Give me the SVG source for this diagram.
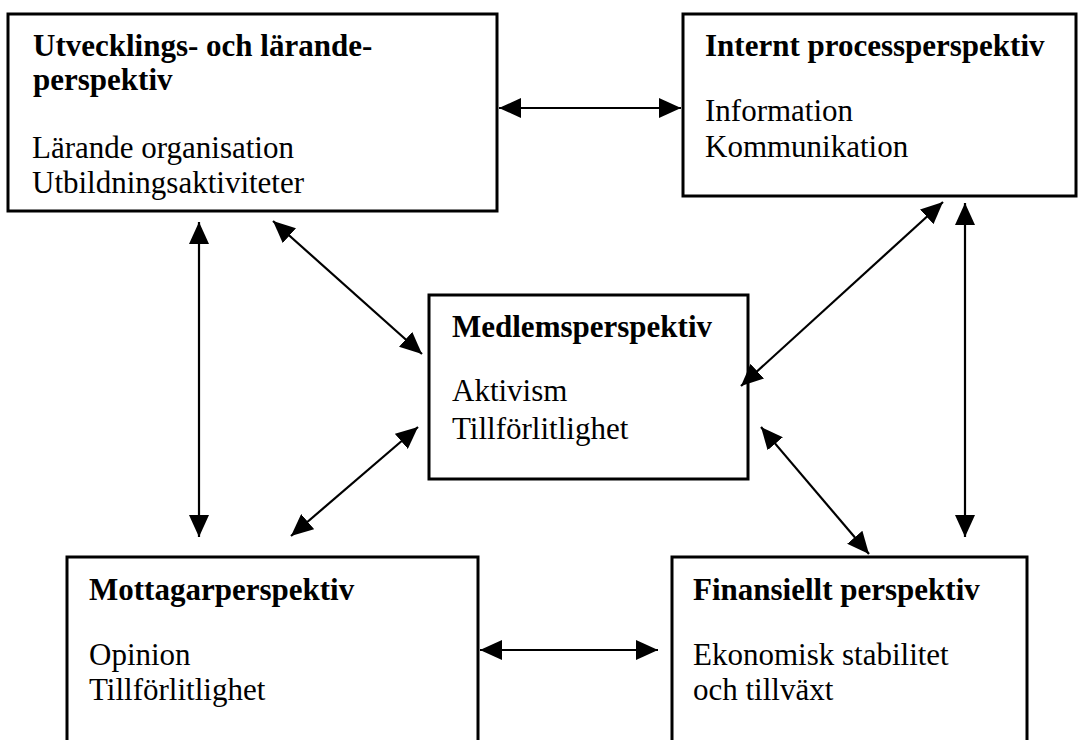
<svg xmlns="http://www.w3.org/2000/svg" width="1083" height="740" viewBox="0 0 1083 740">
<style>
.box{fill:#fff;stroke:#000;stroke-width:3}
.h{font-family:"Liberation Serif","Times New Roman",serif;font-weight:bold;font-size:31px;fill:#000}
.t{font-family:"Liberation Serif","Times New Roman",serif;font-size:31px;fill:#000}
.c{stroke:#000;stroke-width:2.2;fill:none;marker-start:url(#ah);marker-end:url(#ah)}
</style>
<defs>
<marker id="ah" markerUnits="userSpaceOnUse" markerWidth="22" markerHeight="20" refX="22" refY="10" orient="auto-start-reverse" viewBox="0 0 22 20">
<path d="M0,0 L22,10 L0,20 z" fill="#000"/>
</marker>
</defs>
<rect width="1083" height="740" fill="#fff"/>
<g id="n1">
<rect class="box" x="8" y="14" width="489" height="197"/>
<text class="h" x="33" y="56">Utvecklings- och lärande-</text>
<text class="h" x="33" y="90">perspektiv</text>
<text class="t" x="32" y="158">Lärande organisation</text>
<text class="t" x="32" y="193">Utbildningsaktiviteter</text>
</g>
<g id="n2">
<rect class="box" x="683" y="14" width="393" height="182"/>
<text class="h" x="705" y="56">Internt processperspektiv</text>
<text class="t" x="705" y="121">Information</text>
<text class="t" x="705" y="157">Kommunikation</text>
</g>
<g id="n3">
<rect class="box" x="429" y="295" width="319" height="184"/>
<text class="h" x="452" y="337">Medlemsperspektiv</text>
<text class="t" x="452" y="401">Aktivism</text>
<text class="t" x="452" y="439">Tillförlitlighet</text>
</g>
<g id="n4">
<rect class="box" x="67" y="557" width="411" height="200"/>
<text class="h" x="89" y="600">Mottagarperspektiv</text>
<text class="t" x="89" y="665">Opinion</text>
<text class="t" x="89" y="700">Tillförlitlighet</text>
</g>
<g id="n5">
<rect class="box" x="672" y="557" width="355" height="200"/>
<text class="h" x="693" y="600">Finansiellt perspektiv</text>
<text class="t" x="693" y="665">Ekonomisk stabilitet</text>
<text class="t" x="693" y="700">och tillväxt</text>
</g>
<g id="connectors">
<line class="c" x1="499" y1="108" x2="681" y2="108"/>
<line class="c" x1="199" y1="222" x2="199" y2="537"/>
<line class="c" x1="273" y1="221" x2="422" y2="354"/>
<line class="c" x1="418" y1="427" x2="291" y2="536"/>
<line class="c" x1="943" y1="202" x2="741" y2="386"/>
<line class="c" x1="965" y1="203" x2="965" y2="537"/>
<line class="c" x1="761" y1="427" x2="869" y2="554"/>
<line class="c" x1="480" y1="650" x2="658" y2="650"/>
</g>
</svg>
